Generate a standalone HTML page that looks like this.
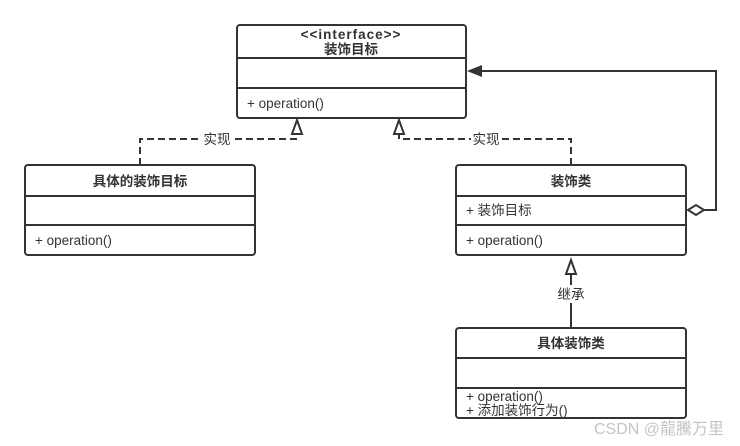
<!DOCTYPE html>
<html><head><meta charset="utf-8"><style>
body{margin:0;background:#fff;}
svg{display:block;font-family:"Liberation Sans","Noto Sans CJK SC",sans-serif;}
</style></head><body>
<svg width="740" height="446" viewBox="0 0 740 446">
<g fill="#fff" stroke="#333" stroke-width="2">
<rect x="237" y="25" width="229" height="93" rx="3"/>
<rect x="25" y="165" width="230" height="90" rx="3"/>
<rect x="456" y="165" width="230" height="90" rx="3"/>
<rect x="456" y="328" width="230" height="90" rx="3"/>
</g>
<g stroke="#333" stroke-width="2">
<line x1="237" y1="58" x2="466" y2="58"/><line x1="237" y1="88" x2="466" y2="88"/>
<line x1="25" y1="196" x2="255" y2="196"/><line x1="25" y1="225" x2="255" y2="225"/>
<line x1="456" y1="196" x2="686" y2="196"/><line x1="456" y1="225" x2="686" y2="225"/>
<line x1="456" y1="358" x2="686" y2="358"/><line x1="456" y1="388" x2="686" y2="388"/>
</g>
<g fill="none" stroke="#333" stroke-width="2" stroke-dasharray="7,4">
<polyline points="140,165 140,139 297,139 297,134"/>
<polyline points="571,165 571,139 399,139 399,134"/>
</g>
<g fill="#fff" stroke="#333" stroke-width="2">
<polygon points="297,120 292,134 302,134"/>
<polygon points="399,120 394,134 404,134"/>
<polygon points="571,260 566,274 576,274"/>
</g>
<line x1="571" y1="274" x2="571" y2="328" stroke="#333" stroke-width="2"/>
<rect x="555" y="285" width="32" height="18" fill="#fff"/>
<rect x="202" y="131" width="30" height="16" fill="#fff"/>
<rect x="471" y="131" width="30" height="16" fill="#fff"/>
<polyline points="704,210 716,210 716,71 482,71" fill="none" stroke="#333" stroke-width="2"/>
<polygon points="688,210 696,205 704,210 696,215" fill="#fff" stroke="#333" stroke-width="2"/>
<polygon points="467,71 482,65 482,77" fill="#333"/>
<g font-size="13.5" fill="#333">
<text x="351" y="39" text-anchor="middle" font-weight="bold" letter-spacing="1">&lt;&lt;interface&gt;&gt;</text>
<text x="351" y="54" text-anchor="middle" font-weight="bold">装饰目标</text>
<text x="247" y="108">+ operation()</text>
<text x="140" y="186" text-anchor="middle" font-weight="bold">具体的装饰目标</text>
<text x="35" y="245">+ operation()</text>
<text x="571" y="186" text-anchor="middle" font-weight="bold">装饰类</text>
<text x="466" y="215">+ 装饰目标</text>
<text x="466" y="245">+ operation()</text>
<text x="571" y="348" text-anchor="middle" font-weight="bold">具体装饰类</text>
<text x="466" y="401">+ operation()</text>
<text x="466" y="415">+ 添加装饰行为()</text>
<text x="217" y="144" text-anchor="middle">实现</text>
<text x="486" y="144" text-anchor="middle">实现</text>
<text x="571" y="299" text-anchor="middle">继承</text>
</g>
<text x="724" y="434" text-anchor="end" font-size="16" fill="#c4c4c4">CSDN @龍騰万里</text>
</svg>
</body></html>
